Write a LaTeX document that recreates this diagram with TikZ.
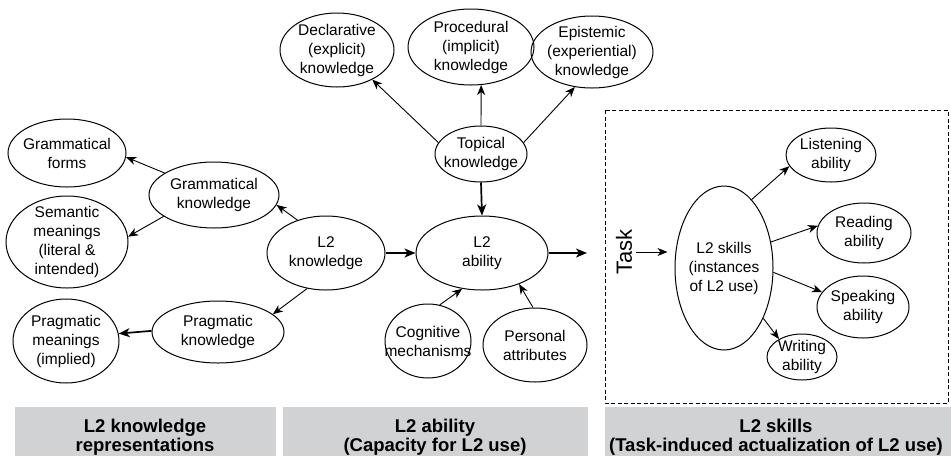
\documentclass[tikz,border=0pt]{standalone}
\usepackage{fontspec}
\setmainfont{Liberation Sans}
\usetikzlibrary{shapes.geometric,arrows.meta}
\definecolor{panel}{RGB}{209,210,212}
\tikzset{
  bub/.style={draw, ellipse, line width=1pt, inner sep=0pt},
  lbl/.style={align=center, font=\fontsize{15.5}{19}\selectfont, inner sep=0pt},
  arr/.style={line width=0.9pt, -{Stealth[length=10pt,width=8pt,inset=3pt]}},
  heavyarr/.style={line width=1.7pt, -{Stealth[length=11pt,width=9pt,inset=3pt]}},
  panelbox/.style={fill=panel, draw=none},
  paneltext/.style={align=center, inner sep=0pt, font=\fontsize{18.5}{18.5}\selectfont\bfseries},
  frame/.style={line width=0.8pt, dash pattern=on 4pt off 2.5pt}
}
% \bub{name}{x}{y}{rx}{ry}{label}
\newcommand\bub[6]{%
  \node[bub, minimum width={2*#4pt}, minimum height={2*#5pt}] (#1) at (#2,#3) {};
  \node[lbl] at (#1) {#6};}
\begin{document}
\begin{tikzpicture}[x=1pt,y=-1pt]
\useasboundingbox[fill=white] (0,0) rectangle (951,456);

% knowledge representations
\bub{gf}{67}{153}{59}{34}{Grammatical\\forms}
\bub{sm}{67}{242}{61}{46}{Semantic\\meanings\\(literal \&\\intended)}
\bub{pm}{66}{341}{53}{42}{Pragmatic\\meanings\\(implied)}
\bub{gk}{214}{195}{65}{33}{Grammatical\\knowledge}
\bub{pk}{218}{332}{66}{31}{Pragmatic\\knowledge}
\bub{lk}{326}{253}{59}{37}{L2\\knowledge}

% ability
\bub{la}{482}{253}{66}{37}{L2\\ability}
\bub{tk}{481}{154}{46}{28}{Topical\\knowledge}
\bub{dk}{337}{50}{57}{37}{Declarative\\(explicit)\\knowledge}
\bub{prk}{471}{47}{63}{38}{Procedural\\(implicit)\\knowledge}
\bub{ek}{592}{52}{61}{36}{Epistemic\\(experiential)\\knowledge}
\bub{cm}{428}{341}{43}{37}{Cognitive\\mechanisms}
\bub{pa}{535}{345}{52}{37}{Personal\\attributes}
\coordinate (out) at (587,253);

% skills
\draw[frame] (605,110) rectangle (948,403);
\node[rotate=90, font=\fontsize{22}{22}\selectfont, inner sep=1pt] (task) at (624,252) {Task};
\bub{sk}{724}{268}{49}{82}{L2 skills\\(instances\\of L2 use)}
\bub{lis}{831}{155}{45}{27}{Listening\\ability}
\bub{rd}{864}{233}{47}{30}{Reading\\ability}
\bub{spk}{863}{307}{46}{31}{Speaking\\ability}
\bub{wr}{802}{357}{35}{23}{Writing\\ability}

% connectors
\draw[arr] (gk.156) -- (gf.-4);
\draw[arr] (gk.203) -- (sm.5);
\draw[arr] (lk.131) -- (gk.-9);
\draw[arr] (lk.242) -- (pk.18);
\draw[heavyarr] (pk.179) -- (pm.8);
\draw[heavyarr] (lk.east) -- (la.west);
\draw[heavyarr] (la.east) -- (out);
\draw[arr] (tk.165) -- (dk.-40);
\draw[arr] (tk.90) -- (prk.-75);
\draw[arr] (tk.15) -- (ek.-116);
\draw[heavyarr] (tk.south) -- (la.north);
\draw[arr] (cm.72) -- (la.241);
\draw[arr] (pa.93) -- (la.-40);
\draw[arr, shorten <=3pt, shorten >=7pt] (task.south) -- (task.south -| sk.west);
\draw[arr] (sk.68) -- (lis.195);
\draw[arr] (sk.29) -- (rd.171);
\draw[arr] (sk.-5) -- (spk.160);
\draw[arr] (sk.-52) -- (wr.142);

% panels
\fill[panelbox] (15,407) rectangle (276,456);
\fill[panelbox] (283,407) rectangle (588,456);
\fill[panelbox] (605,407) rectangle (951,456);
\node[paneltext] (p1) at (145,437) {L2 knowledge\\representations};
\node[paneltext] (p2) at (435,437) {L2 ability\\(Capacity for L2 use)};
\node[paneltext] (p3) at (776,437) {L2 skills\\(Task-induced actualization of L2 use)};
\end{tikzpicture}
\end{document}
